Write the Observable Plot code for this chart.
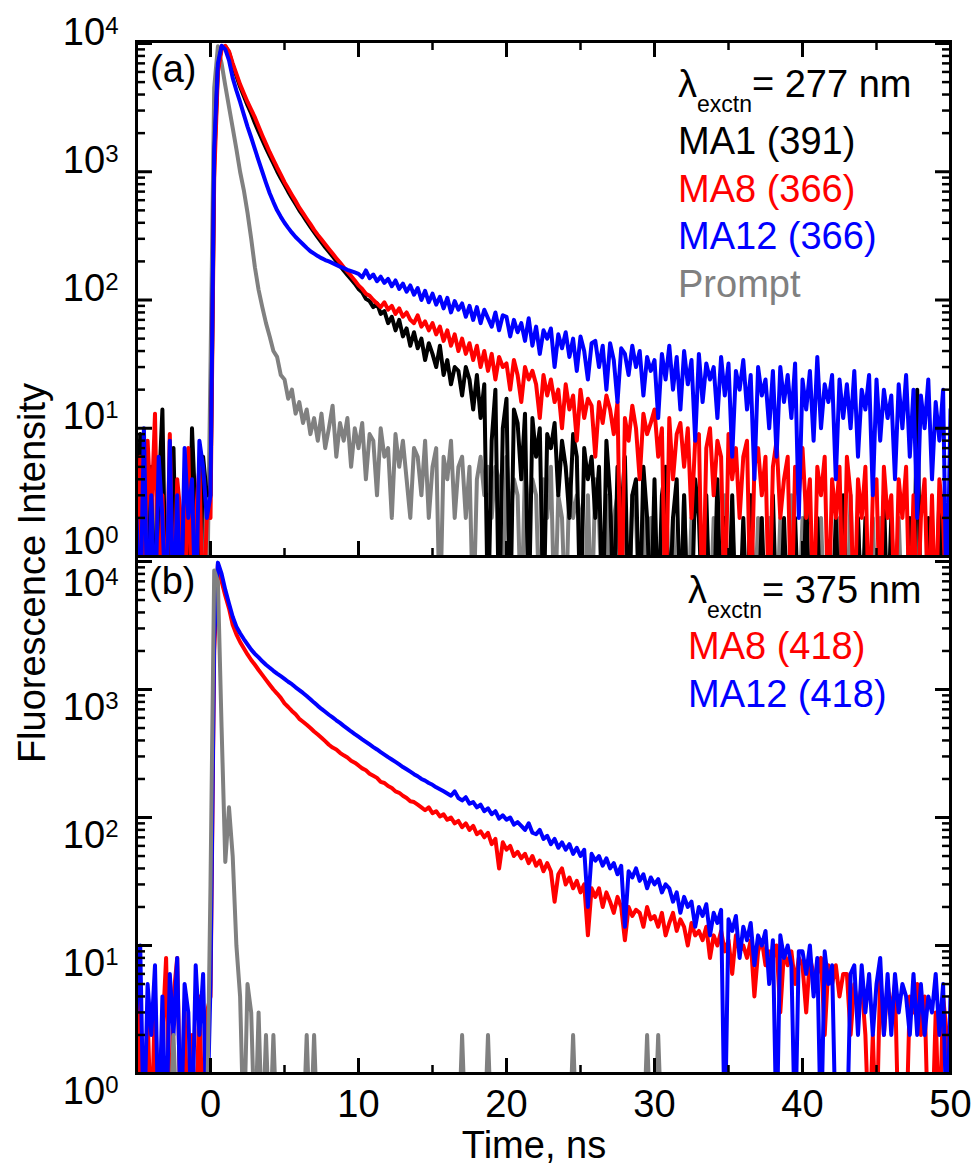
<!DOCTYPE html>
<html><head><meta charset="utf-8">
<script src="https://cdn.jsdelivr.net/npm/d3@7"></script>
<script src="https://cdn.jsdelivr.net/npm/@observablehq/plot@0.6"></script>
<style>
body{margin:0;background:#fff;}
#wrap{position:relative;width:976px;height:1166px;overflow:hidden;background:#fff;}
#wrap svg{position:absolute;left:0;}
</style></head><body><div id="wrap"></div>
<script>
// ---- time channels (ns): -5 .. 50 in 0.25 ns steps ----
const timeStart = -5, timeStep = 0.25, timeCount = 221;
const timeNs = d3.range(timeCount).map(i => timeStart + i * timeStep);

// ---- panel (a): λexctn = 277 nm ----
const ma1_277 = [
0,9,2,0,5,0,3,14,0,2,7,0,0,4,0,10,2,0,6,3,
3,1200,6500,9300, 9500,8500,6800,5600, 4600,3900,3300,2850, 2400,2050,1770,1530,
1330,1160,1010,890, 790,700,625,560, 500,455,410,372, 338,308,282,258,
238,219,201,185, 170,157,145,134, 122,115,102,98, 88,94,78,82,
66,74,58,70, 52,60,44,56, 42,50,34,46, 38,30,44,26,
34,22,30,28, 18,30,24,14, 26,12,22,0, 8,20,0,10,
17,0,14,11, 4,13,0,12, 6,10,0,9, 7,11,3,8,
5,2,9,6, 0,7,4,6, 2,5,0,8, 3,0,5,2,
6,0,3,4, 0,5,2,0, 4,0,3,5, 0,2,4,0,
3,0,0,4, 2,0,3,0, 0,4,0,2, 0,3,0,0,
2,0,3,0, 0,2,0,0, 3,0,0,2, 0,0,2,0,
0,3,0,0, 2,0,0,0, 0,2,0,3, 0,0,0,2,
0,2,0,0, 0,0,3,0, 2,0,0,0, 0,2,0,20,
0,0,2,0, 0,3,0,0, 0];
const ma8_277 = [
0,6,0,8,2,13,0,3,0,9,0,4,2,0,7,0,2,5,0,2,
2,900,6000,9000, 9600,8700,7000,5800, 4800,4100,3500,3050, 2650,2250,1920,1650,
1420,1240,1080,950, 830,740,660,590, 525,475,430,390, 352,322,296,272,
250,230,212,196, 180,166,154,142, 130,122,112,108, 100,94,88,96,
84,90,78,86, 74,80,70,66, 76,62,68,58, 66,54,62,48,
58,44,54,40, 50,38,46,34, 44,30,40,28, 38,24,36,30,
32,20,34,26, 16,30,24,28, 22,12,26,18, 24,16,20,10,
22,14,18,8, 20,12,17,15, 6,16,11,18, 14,9,16,0,
12,8,15,10, 4,13,9,11, 14,6,10,0, 12,4,9,11,
5,10,2,8, 9,0,7,10, 3,8,6,0, 9,4,7,2,
6,8,0,5, 7,3,6,0, 5,8,2,4, 6,0,5,3,
7,2,4,0, 5,3,6,0, 4,2,5,0, 6,3,0,4,
2,5,0,3, 4,0,5,2, 3,0,4,2, 5,0,3,0,
2,4,0,3, 0,4,2,0, 3];
const ma12_277 = [
2,0,10,0,3,0,6,2,0,8,0,3,0,7,2,4,0,8,5,2,
3,1500,7000,9600, 9000,7400,5400,4300, 3500,2800,2250,1850, 1500,1220,1000,820,
680,580,500,445, 400,365,335,310, 290,272,255,240, 230,220,212,205,
200,194,188,182, 177,172,168,164, 160,150,170,148, 158,140,152,136,
146,128,142,122, 134,116,130,110, 124,100,118,96, 112,92,106,86,
104,80,98,84, 94,74,90,70, 88,66,84,72, 62,80,58,76,
74,52,70,56, 66,48,72,44, 62,38,58,50, 60,30,54,42,
56,36,50,28, 52,40,24,46, 48,30,44,20, 46,34,16,42,
38,26,44,30, 40,18,36,28, 34,12,38,24, 44,20,36,14,
40,22,34,8, 38,16,32,24, 30,12,36,18, 32,6,28,20,
34,14,26,4, 30,18,24,10, 28,6,30,16, 26,12,32,2,
24,14,28,8, 36,10,22,16, 26,4,24,12, 22,10,28,6,
20,14,26,3, 24,8,20,12, 18,4,22,10, 26,6,20,2,
18,10,24,4, 16,8,20,0, 14];
const prompt_277 = [
0,2,0,3,0,0,2,4,0,2,0,3,0,2,0,4,2,0,3,0,
30,4500,9500,7000, 4700,3200,2200,1500, 1000,720,480,300, 180,120,88,66,
52,40,36,26, 24,17,20,13, 16,11,14,9, 12,8,13,7,
10,15,6,11, 8,12,5,10, 7,11,4,9, 8,3,10,6,
7,2,9,5, 8,4,2,7, 6,3,8,2, 5,7,0,6,
4,8,2,5, 6,2,5,0, 4,6,3,5, 2,5,4,0,
6,2,4,3, 0,5,2,4, 3,0,4,2, 5,0,3,2,
0,4,2,3, 2,0,3,0, 4,2,0,3, 0,2,3,0,
2,0,3,2, 0,3,0,2, 2,0,0,3, 0,2,0,0,
3,0,2,0, 0,0,2,0, 2,0,0,3, 0,2,0,0,
0,0,3,0, 2,0,0,2, 0,0,2,0, 0,3,0,0,
2,0,0,0, 0,2,0,0, 0,0,2,0, 0,3,0,2,
0,0,0,2, 0,2,0,0, 0,0,2,0, 0,0,0,2,
0,0,0,0, 0,0,0,0, 0];

// ---- panel (b): λexctn = 375 nm ----
const ma8_375 = [
0,4,0,3,0,4,0,2,8,0,4,8,0,3,0,2,0,4,0,3,
4,2000,9500,7000, 5400,4300,3200,2700, 2350,2100,1880,1700, 1560,1420,1300,1190,
1090,1000,930,860, 780,730,680,640, 590,560,530,500, 470,445,420,395,
370,352,340,320, 306,294,278,268, 255,242,234,220, 212,204,190,186,
176,170,160,156, 148,142,134,132, 126,120,114,120, 108,112,102,106,
96,100,90,94, 84,90,80,86, 74,78,70,76, 62,68,40,64,
56,60,50,54, 48,52,44,50, 42,46,38,44, 38,22,36,40,
30,34,28,32, 26,30,12,28, 24,28,20,26, 22,18,24,20,
11,20,17,19, 18,14,20,16, 17,14,18,12, 15,18,13,16,
14,10,15,12, 13,11,14,8, 12,10,13,9, 11,6,12,9,
10,8,11,4, 9,11,7,9, 8,10,3,9, 7,9,5,8,
7,3,8,6, 6,8,2,7, 5,7,4,6, 6,2,5,3,
5,2,0,2, 0,6,2,5, 3,5,0,0, 0,4,3,5,
2,4,0,0, 3,0,4,2, 0];
const ma12_375 = [
3,10,0,5,2,7,0,4,0,6,2,8,0,5,3,0,7,2,6,0,
5,2500,9800,8000, 6000,4700,3700,3100, 2750,2480,2250,2050, 1900,1780,1660,1560,
1480,1400,1330,1270, 1210,1150,1100,1040, 990,940,890,840, 790,745,705,670,
635,605,575,548, 520,495,470,448, 428,408,390,372, 355,340,324,310,
296,284,272,260, 248,238,228,218, 210,200,194,186, 180,172,166,160,
154,148,160,142, 136,144,128,132, 120,126,112,118, 106,112,98,104,
96,100,88,92, 86,80,90,76, 74,80,68,72, 62,68,58,64,
56,62,52,58, 50,56,20,52, 46,50,42,48, 40,44,36,42,
14,38,34,40, 32,36,28,34, 30,33,26,30, 28,22,26,18,
24,20,22,14, 20,17,21,12, 18,15,19,0, 16,13,17,8,
14,11,15,7, 12,10,13,5, 11,0,12,8, 10,7,0,9,
9,6,10,4, 8,0,9,5, 7,0,0,0, 0,6,7,2,
7,3,6,2, 5,8,2,6, 2,6,3,5, 4,2,6,2,
5,2,4,3, 6,2,5,0, 4];
const prompt_375 = [
0,0,0,0,0,0,0,0,0,0,2,0,0,0,0,0,0,0,0,0,
30,8500,7000,500, 45,120,50,10, 4,0,5,3, 0,3,0,2,
0,2,0,0, 0,0,0,0, 0,0,2,0, 2,0,0,0,
0,0,0,0, 0,0,0,0, 0,0,0,0, 0,0,0,0,
0,0,0,0, 0,0,0,0, 0,0,0,0, 0,0,0,0,
0,0,0,0, 2,0,0,0, 0,0,0,2, 0,0,0,0,
0,0,0,0, 0,0,0,0, 0,0,0,0, 0,0,0,0,
0,0,2,0, 0,0,0,0, 0,0,0,0, 0,0,0,0,
0,0,0,0, 0,0,2,0, 0,2,0,0, 0,0,0,0,
0,0,0,0, 0,0,0,0, 0,0,0,0, 0,0,0,0,
0,0,0,0, 0,0,0,0, 0,0,0,0, 0,0,0,0,
0,0,0,0, 0,0,0,0, 0,0,0,0, 0,0,0,0,
0,0,0,0, 0,0,0,0, 0,0,0,0, 0,0,0,0,
0,0,0,0, 0,0,0,0, 0];

// ---- axes ----
const xMajor = [0, 10, 20, 30, 40, 50];
const xMinor = [5, 15, 25, 35, 45];
const yMajor = [1, 10, 100, 1000, 10000];
const yMinor = [1, 10, 100, 1000].flatMap(k => [2,3,4,5,6,7,8,9].map(m => m * k));

// ---- legend texts ----
const legendA = {exc: "277 nm", items: [["MA1 (391)", "#000000"], ["MA8 (366)", "#ff0000"], ["MA12 (366)", "#0000ff"], ["Prompt", "#808080"]]};
const legendB = {exc: "375 nm", items: [["MA8 (418)", "#ff0000"], ["MA12 (418)", "#0000ff"]]};

const FONT = "Liberation Sans, Arial, Helvetica, sans-serif";

function rows(counts) {
  return counts.slice(0, timeCount).map((v, i) => ({t: timeNs[i], v}));
}
const yv = d => d.v > 0 ? d.v : 0.3; // zero counts fall below the log axis (clipped)

function lineMark(counts, color) {
  return Plot.line(rows(counts), {x: "t", y: yv, stroke: color, strokeWidth: 4, clip: true});
}

function frameMarks(top, bottom, labelsBottom, labelDy) {
  const m = [
    Plot.frame({stroke: "black", strokeWidth: 3}),
    Plot.axisY(yMajor, {anchor: "left", tickSize: -16, strokeWidth: 3, fill: "none"}),
    Plot.axisY(yMinor, {anchor: "left", tickSize: -9, strokeWidth: 2.5, fill: "none"}),
    Plot.axisY(yMajor, {anchor: "right", tickSize: -16, strokeWidth: 3, fill: "none"}),
    Plot.axisY(yMinor, {anchor: "right", tickSize: -9, strokeWidth: 2.5, fill: "none"}),
    Plot.axisY(yMajor, {anchor: "left", tickSize: 0, tickPadding: 18, fontSize: 38, dy: labelDy,
      tickFormat: d => "10^" + Math.round(Math.log10(d)), label: null})
  ];
  if (top) m.push(
    Plot.axisX(xMajor, {anchor: "top", tickSize: -15, strokeWidth: 3, fill: "none"}),
    Plot.axisX(xMinor, {anchor: "top", tickSize: -8, strokeWidth: 2.5, fill: "none"}));
  if (bottom) m.push(
    Plot.axisX(xMajor, {anchor: "bottom", tickSize: -15, strokeWidth: 3, fill: "none"}),
    Plot.axisX(xMinor, {anchor: "bottom", tickSize: -8, strokeWidth: 2.5, fill: "none"}));
  if (labelsBottom) m.push(
    Plot.axisX(xMajor, {anchor: "bottom", tickSize: 0, tickPadding: 17, fontSize: 38, label: null}));
  return m;
}

// turn "10^n" into 10 with a raised exponent; shift nudges one crowded label
function superscripts(svg, shiftExp, shift) {
  d3.select(svg).selectAll('g[aria-label="y-axis tick label"] text').each(function() {
    const m = (this.textContent || "").match(/^10\^(\d)$/);
    if (!m) return;
    const t = d3.select(this);
    t.text(null);
    const base = t.append("tspan").text("10");
    if (m[1] === shiftExp) base.attr("dy", shift);
    t.append("tspan").attr("font-size", 24).attr("dy", -11).text(m[1]);
  });
}

const common = {
  width: 976,
  marginLeft: 136, marginRight: 26,
  x: {domain: [-5, 50]},
  style: {fontFamily: FONT, fontSize: "38px", background: "transparent", overflow: "visible", color: "black"}
};

const plotA = Plot.plot({
  ...common,
  height: 560, marginTop: 41, marginBottom: 4,
  y: {type: "log", domain: [1, 10000], range: [556, 43]},
  marks: [
    lineMark(prompt_277, "#808080"),
    lineMark(ma1_277, "#000000"),
    lineMark(ma8_277, "#ff0000"),
    lineMark(ma12_277, "#0000ff"),
    ...frameMarks(true, true, false, -11)
  ]
});
superscripts(plotA, "0", -4);

const plotB = Plot.plot({
  ...common,
  height: 610, marginTop: 0, marginBottom: 93,
  y: {type: "log", domain: [1, 10000], range: [517, 5]},
  marks: [
    lineMark(ma8_375, "#ff0000"),
    lineMark(ma12_375, "#0000ff"),
    lineMark(prompt_375, "#808080"),
    ...frameMarks(false, true, true, 18)
  ]
});
superscripts(plotB, "4", 4);

const wrap = document.getElementById("wrap");
plotA.style.top = "0px";
plotB.style.top = "556px";
wrap.appendChild(plotA);
wrap.appendChild(plotB);

// ---- overlay with panel letters, legends and axis titles ----
const ov = d3.select(wrap).append("svg")
  .attr("width", 976).attr("height", 1166)
  .style("top", "0px").style("pointer-events", "none")
  .attr("font-family", FONT).attr("font-size", 38);

function legend(lg, x, y0, step0, step) {
  const t = ov.append("text").attr("x", x).attr("y", y0).attr("fill", "black");
  t.append("tspan").text("λ");
  t.append("tspan").attr("font-size", 23).attr("dy", 15).text("exctn");
  t.append("tspan").attr("dy", -15).text("= " + lg.exc);
  lg.items.forEach(([s, c], i) => {
    ov.append("text").attr("x", x).attr("y", y0 + step0 + i * step).attr("fill", c).text(s);
  });
}
legend(legendA, 678, 97, 57, 47.5);
legend(legendB, 688, 603, 56, 48);

ov.append("text").attr("x", 150).attr("y", 82).text("(a)");
ov.append("text").attr("x", 149).attr("y", 594).text("(b)");
ov.append("text").attr("x", 534).attr("y", 1158).attr("text-anchor", "middle").text("Time, ns");
ov.append("text").attr("transform", "translate(45,573) rotate(-90)").attr("text-anchor", "middle").text("Fluorescence Intensity");
</script>
</body></html>
